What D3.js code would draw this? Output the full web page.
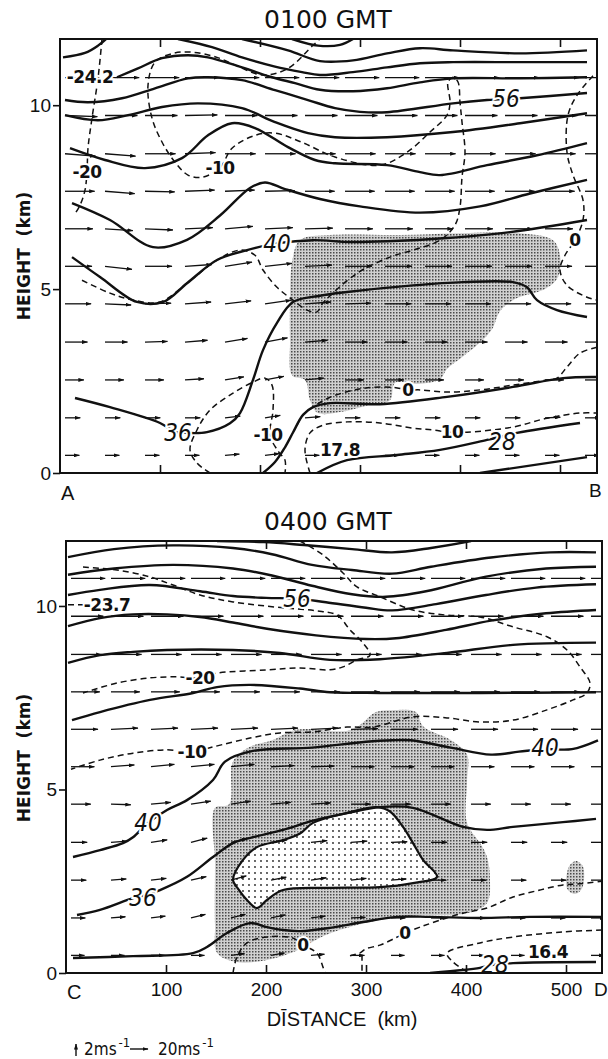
<!DOCTYPE html>
<html>
<head>
<meta charset="utf-8">
<script src="https://cdn.jsdelivr.net/npm/d3@7"></script>
<style>
  body { margin: 0; background: #fff; }
  text { fill: #111; }
</style>
</head>
<body>
<svg id="fig" width="608" height="1059"></svg>
<script>
// ---- wind grid (both panels) ----
var levels = [0.48, 1.5, 2.53, 3.56, 4.6, 5.62, 6.64, 7.66, 8.68, 9.72, 10.75];
var cols = [5, 45, 85, 125, 165, 205, 245, 285, 325, 365, 405, 445, 485, 525];
// horizontal speed per level (m/s)
var topSpeed = [16, 17, 21, 25, 29, 30, 31, 33, 34, 36, 38];
var botSpeed = [15, 16, 17, 18, 22, 26, 30, 32, 34, 36, 38];
// vertical speed per level / column (m/s)
var topW = [
  [0, 0, 0, 0, 0.2, 0.3, 0, 0, 0, 0, 0, 0, 0, 0],
  [0, 0, 0, 0, 0.3, 0.4, 0.2, 0, 0, 0, 0, 0, 0.1, 0],
  [0, 0, 0, 0.2, 0.5, 0.6, 0.3, 0, 0, 0, 0, 0, 0, 0],
  [0, 0, 0.1, 0.3, 0.6, 0.7, 0.3, 0, 0, 0, 0, 0, 0, 0],
  [0, -0.2, 0.1, 0.3, 0.5, 0.6, 0.3, 0.1, 0, 0, 0, 0, 0, 0],
  [0, -0.5, 0, 0.3, 0.7, 0.5, 0.2, 0, 0, 0, 0, 0, 0, 0],
  [0, -0.3, -0.2, 0.2, 0.4, 0.2, 0.1, 0, 0, 0, 0, 0, 0, 0],
  [0, -0.4, -0.1, 0.2, 0.2, 0.1, 0, 0, 0, 0, 0, 0, 0, 0],
  [-0.4, -0.4, 0, 0.2, 0, 0, 0, 0, 0, 0, 0, 0, 0, 0],
  [-0.2, 0, 0, 0.1, 0, 0, 0, 0, 0, 0, 0, 0, 0, 0],
  [0, 0, 0, 0, 0, 0, 0, 0, 0, 0, 0, 0, 0, 0]
];
var botW = [
  [0, 0, 0, 0, 0.3, 0.4, 0.2, 0, 0, 0, 0, 0, 0, 0],
  [0, 0.2, 0.3, 0.6, 0.6, 0.5, 0.3, 0.1, 0, 0, 0, 0, 0, 0],
  [0, 0.2, 0.3, 0.6, 0.7, 0.5, 0.4, 0.3, 0.2, 0, 0, 0, 0, 0],
  [0, 0.2, 0.4, 0.7, 0.6, 0.4, 0.3, 0.2, 0.1, 0, 0, 0, 0, 0],
  [0, -0.1, 0.3, 0.5, 0.5, 0.3, 0.2, 0, 0, 0, 0, 0, 0, 0],
  [0, 0.3, 0.4, 0.4, 0.4, 0.2, 0.1, 0, 0, 0, 0, 0, 0, 0],
  [0, 0.2, 0.2, 0.2, 0.2, 0.2, 0.2, 0.1, 0, 0, 0, 0, 0, 0],
  [0, 0, 0, 0, 0, 0, 0, 0, 0, 0, 0, 0, 0, 0],
  [0, 0, 0, 0, 0, 0, 0, 0, 0, 0, 0, 0, 0, 0],
  [0, 0, 0, 0, 0, 0, 0, 0, 0, 0, 0, 0, 0, 0],
  [0, 0, 0, 0, 0, 0, 0, 0, 0, 0, 0, 0, 0, 0]
];

// ---- 0100 GMT contours, points are [distance km, height km] ----
var topSolid = [
  [[3,11.3],[25,11.42],[38,11.62],[46,11.8]],
  [[232,11.8],[258,11.62],[280,11.64],[293,11.8]],
  [[182,11.8],[228,11.49],[260,11.2],[293,11.22],[327,11.41],[360,11.55],[393,11.49],[460,11.41],[527,11.49]],
  [[118,11.8],[152,11.58],[182,11.3],[215,11.05],[242,10.9],[260,10.82],[293,10.9],[327,11.03],[360,11.14],[393,11.17],[460,11.17],[527,11.17]],
  [[57,10.76],[78,11.0],[102,11.28],[128,11.36],[148,11.3],[182,11.03],[212,10.76],[235,10.6],[260,10.42],[293,10.38],[327,10.46],[360,10.62],[393,10.73],[460,10.73],[527,10.76]],
  [[5,10.14],[28,10.08],[62,10.19],[95,10.46],[128,10.73],[148,10.76],[182,10.68],[215,10.41],[248,10.14],[275,9.92],[300,9.82],[327,9.81],[393,10.05],[427,10.14],[460,10.19],[527,10.33]],
  [[5,9.73],[38,9.59],[68,9.73],[102,9.95],[138,10.05],[182,9.92],[215,9.54],[248,9.24],[275,9.13],[327,9.13],[393,9.27],[460,9.51],[527,9.78]],
  [[10,8.83],[45,8.51],[85,8.29],[122,8.56],[148,9.18],[172,9.51],[195,9.38],[228,8.86],[255,8.51],[275,8.42],[327,8.37],[360,8.18],[380,8.1],[427,8.37],[477,8.64],[527,8.97]],
  [[12,7.34],[50,6.88],[93,6.14],[127,6.34],[160,7.0],[190,7.75],[205,7.9],[225,7.72],[260,7.45],[300,7.25],[360,7.08],[420,7.25],[470,7.6],[527,7.97]],
  [[12,5.87],[40,5.33],[77,4.65],[103,4.65],[127,5.16],[157,5.79],[187,6.06],[218,6.25],[253,6.33],[290,6.28],[327,6.3],[387,6.39],[450,6.55],[527,6.88]],
  [[15,2.04],[50,1.79],[100,1.36],[115,1.12],[127,1.09],[147,1.11],[170,1.35],[180,1.63],[193,2.53],[203,3.34],[217,4.08],[233,4.65],[260,4.82],[287,4.92],[353,5.1],[403,5.19],[453,5.19],[467,5.05],[477,4.7],[497,4.43],[527,4.24]],
  [[203,0],[215,0.3],[225,0.7],[233,1.1],[243,1.58],[253,1.79],[270,1.9],[320,1.87],[387,2.07],[453,2.34],[503,2.58],[537,2.61]],
  [[257,0],[287,0.35],[337,0.49],[380,0.63],[427,0.9],[457,1.09],[520,1.36]],
  [[420,0],[527,0.43]]
];
var topDashed = [
  [[42,11.8],[38,10.73],[32,9.65],[28,8.83],[27,8.2],[25,7.69],[20,7.28],[15,7.05]],
  [[22,5.24],[50,4.89],[73,4.7],[100,4.65],[127,5.16],[157,5.79],[180,6.06],[195,5.92],[203,5.52],[217,5.05],[233,4.7],[247,4.43],[257,4.38],[263,4.62],[297,5.43],[330,5.87],[353,6.06],[380,6.33],[395,6.74],[400,7.23],[402,8.04],[405,8.72],[402,9.54],[400,10.08],[398,10.63],[393,10.76],[388,10.63],[390,10.08],[387,9.73],[370,9.27],[347,8.72],[320,8.37],[275,8.59],[242,8.99],[215,9.24],[195,9.18],[172,8.83],[160,8.3],[142,8.04],[128,8.1],[115,8.45],[102,9.0],[92,9.65],[88,10.54],[95,11.17],[113,11.41],[133,11.44],[157,11.3],[180,11.03],[203,10.82],[228,11.0],[253,11.63],[260,11.8]],
  [[150,0],[137,0.27],[130,0.63],[137,1.17],[150,1.71],[173,2.17],[193,2.47],[205,2.58],[212,2.39],[213,1.71],[210,1.03],[218,0.6],[225,0.35],[225,0]],
  [[237,1.3],[243,1.58],[253,1.79],[270,2.06],[303,2.3],[333,2.33],[348,2.26],[360,2.26],[387,2.2],[420,2.26],[453,2.39],[487,2.53],[497,2.58],[507,2.88],[520,3.26],[537,3.42]],
  [[533,10.8],[517,10.27],[508,9.73],[507,8.72],[513,8.1],[523,7.42],[523,6.88],[515,6.33],[505,5.92],[500,5.52],[507,5.1],[527,4.78],[537,4.7]],
  [[250,0],[245,0.63],[250,1.09],[263,1.3],[287,1.39],[320,1.36],[353,1.22],[373,1.17],[390,1.11],[407,1.11],[453,1.25],[487,1.49],[520,1.63],[537,1.63]]
];
var topShade = [[232,5.73],[240,6.33],[270,6.47],[340,6.47],[400,6.52],[460,6.52],[493,6.33],[500,5.92],[498,5.33],[485,5.0],[455,4.73],[440,4.4],[432,3.91],[418,3.5],[402,3.15],[387,2.83],[380,2.55],[358,2.42],[335,2.45],[330,1.98],[310,1.85],[280,1.66],[258,1.63],[250,1.98],[245,2.53],[232,2.66],[230,3.61],[230,4.67]];
var topBoldLabels = [["-24.2",30,10.76],["-20",27,8.18],["-10",160,8.29],["-10",208,1.03],["0",348,2.26],["0",515,6.33],["10",392,1.11],["17.8",280,0.62]];
var topItalicLabels = [["40",217,6.22],["36",118,1.09],["56",446,10.18],["28",442,0.84]];

// ---- 0400 GMT contours ----
var botSolid = [
  [[151,11.77],[198,11.74],[238,11.66],[286,11.55],[326,11.46],[365,11.58],[405,11.77]],
  [[2,11.33],[48,11.55],[107,11.65],[167,11.58],[206,11.41],[246,11.12],[286,10.98],[326,10.88],[365,11.07],[425,11.32],[484,11.46],[530,11.46]],
  [[2,10.85],[48,11.02],[107,11.12],[167,11.02],[206,10.83],[246,10.55],[286,10.32],[320,10.25],[360,10.4],[420,10.8],[480,11.02],[530,11.07]],
  [[2,10.3],[34,10.44],[84,10.57],[134,10.4],[167,10.27],[200,10.22],[231,10.2],[260,10.1],[300,9.95],[326,9.88],[370,10.05],[420,10.3],[470,10.5],[530,10.59]],
  [[2,9.45],[34,9.67],[67,9.77],[101,9.77],[134,9.7],[167,9.55],[201,9.38],[250,9.2],[300,9.1],[330,9.12],[380,9.35],[425,9.6],[480,9.8],[530,9.89]],
  [[2,8.45],[34,8.66],[67,8.75],[101,8.8],[167,8.8],[214,8.72],[264,8.53],[314,8.55],[381,8.72],[447,8.94],[530,9.0]],
  [[6,6.89],[34,7.11],[84,7.44],[127,7.63],[151,7.79],[184,7.85],[234,7.75],[264,7.65],[314,7.63],[414,7.63],[530,7.65]],
  [[7,3.16],[34,3.35],[57,3.54],[67,3.7],[82,4.09],[101,4.44],[121,4.71],[147,5.26],[159,5.76],[187,6.05],[246,6.14],[300,6.3],[326,6.34],[345,6.34],[385,6.14],[425,5.95],[453,6.03],[479,6.1],[506,6.1],[532,6.34]],
  [[11,1.58],[34,1.72],[67,2.04],[77,2.1],[94,2.26],[121,2.62],[147,3.16],[167,3.54],[187,3.7],[217,3.9],[247,4.15],[280,4.35],[314,4.52],[347,4.5],[397,3.98],[421,3.9],[447,3.98],[497,4.11],[530,4.2]],
  [[7,0.41],[67,0.46],[127,0.54],[141,0.71],[161,1.09],[184,1.36],[201,1.25],[217,1.17],[234,1.14],[264,1.23],[297,1.39],[331,1.53],[364,1.53],[414,1.5],[464,1.53],[536,1.53]],
  [[364,0],[397,0.08],[414,0.14],[427,0.22],[447,0.27],[530,0.3]]
];
var botLoop = [[167,2.53],[177,3.08],[191,3.43],[217,3.62],[234,3.8],[247,4.09],[281,4.36],[311,4.52],[324,4.4],[337,3.98],[347,3.54],[357,3.08],[371,2.62],[347,2.45],[314,2.34],[264,2.32],[217,2.26],[201,1.99],[191,1.77],[181,1.99],[172,2.3]];
var botDashed = [
  [[17,11.06],[51,10.98],[84,10.79],[107,10.57],[134,10.3],[167,10.11],[217,9.95],[250,9.87],[271,9.75],[284,9.35],[297,8.99],[304,8.66],[291,8.53],[277,8.34],[264,8.26],[234,8.31],[201,8.26],[151,8.17],[132,8.04],[111,8.07],[84,8.04],[51,7.9],[17,7.63]],
  [[234,11.77],[257,11.39],[277,10.9],[291,10.52],[314,10.25],[347,9.89],[381,9.75],[414,9.7],[447,9.43],[481,9.16],[501,8.8],[514,8.34],[524,7.9],[521,7.63],[507,7.44],[481,7.17],[447,6.89],[414,6.84],[381,6.95],[347,6.98],[307,6.7],[281,6.7],[247,6.57],[214,6.54],[184,6.4],[147,6.16],[126,6.02],[101,6.08],[67,5.99],[34,5.8],[5,5.55]],
  [[2,10.03],[17,10.03]],
  [[167,0],[171,0.44],[181,0.82],[201,0.98],[227,0.95],[237,0.76],[251,0.54],[257,0.16],[259,0]],
  [[284,0.47],[294,0.55],[300,0.66],[314,0.76],[329,0.95],[339,1.09],[354,1.25],[374,1.44],[397,1.63],[421,1.77],[447,2.07],[474,2.26],[497,2.4],[514,2.43],[536,2.5]],
  [[296,0.5],[296,0]],
  [[401,0.03],[387,0.3],[381,0.54],[414,0.82],[447,0.98],[497,1.12],[536,1.17]]
];
var botShade = [[149,4.5],[163,4.6],[167,5.76],[183,6.15],[206,6.34],[230,6.63],[286,6.63],[310,7.11],[326,7.16],[350,7.11],[357,6.72],[385,6.34],[401,5.95],[401,5.2],[401,4.09],[414,3.54],[421,3.16],[424,2.53],[421,1.91],[401,1.63],[340,1.55],[290,1.3],[257,1.0],[230,0.6],[200,0.35],[170,0.3],[151,0.55],[149,1.3],[149,3.0]];
var botShadeSmall = [[501,2.3],[503,2.9],[510,3.05],[517,2.9],[516,2.3],[509,2.15]];
var botBoldLabels = [["-23.7",41,10.03],["-20",134,8.04],["-10",126,6.02],["0",237,0.76],["0",339,1.09],["16.4",482,0.57]];
var botItalicLabels = [["56",231,10.2],["40",82,4.09],["40",479,6.13],["36",77,2.04],["28",429,0.22]];

var heightTicks = [0, 5, 10];
var distTicks = [100, 200, 300, 400, 500];

// ------------------------------------------------------------
var svg = d3.select('#fig');
var defs = svg.append('defs');

defs.append('marker')
  .attr('id', 'head')
  .attr('viewBox', '0 0 6 4')
  .attr('refX', 5.5).attr('refY', 2)
  .attr('markerWidth', 6).attr('markerHeight', 4)
  .attr('markerUnits', 'userSpaceOnUse')
  .attr('orient', 'auto')
  .append('path').attr('d', 'M0,0L6,2L0,4Z').attr('fill', '#111');

var stip = defs.append('pattern').attr('id', 'stip')
  .attr('width', 3).attr('height', 3).attr('patternUnits', 'userSpaceOnUse');
stip.append('rect').attr('width', 3).attr('height', 3).attr('fill', '#d0d0d0');
stip.append('rect').attr('width', 1.5).attr('height', 1.5).attr('fill', '#4a4a4a');

var sparse = defs.append('pattern').attr('id', 'sparse')
  .attr('width', 6).attr('height', 6).attr('patternUnits', 'userSpaceOnUse');
sparse.append('rect').attr('width', 6).attr('height', 6).attr('fill', '#fff');
sparse.append('circle').attr('cx', 3).attr('cy', 3).attr('r', 0.9).attr('fill', '#222');

// 20 m/s -> 18 px, 2 m/s vertical -> 12 px
var uScale = d3.scaleLinear().domain([0, 20]).range([0, 18]);
var wScale = d3.scaleLinear().domain([0, 2]).range([0, 12]);

function drawPanel(p) {
  var x = d3.scaleLinear().domain([0, p.xMax]).range([p.left, p.right]);
  var y = d3.scaleLinear().domain([0, p.yMax]).range([p.bottom, p.top]);
  var g = svg.append('g');

  defs.append('clipPath').attr('id', p.id + 'clip')
    .append('rect').attr('x', p.left).attr('y', p.top)
    .attr('width', p.right - p.left).attr('height', p.bottom - p.top);

  var inner = g.append('g').attr('clip-path', 'url(#' + p.id + 'clip)');
  var smooth = d3.line().x(function(d){ return x(d[0]); }).y(function(d){ return y(d[1]); })
    .curve(d3.curveCatmullRom.alpha(0.5));
  var closed = d3.line().x(function(d){ return x(d[0]); }).y(function(d){ return y(d[1]); })
    .curve(d3.curveCatmullRomClosed.alpha(0.5));

  // shaded areas
  p.shades.forEach(function(s){
    inner.append('path').attr('d', closed(s)).attr('fill', 'url(#stip)');
  });
  if (p.loop) {
    inner.append('path').attr('d', closed(p.loop)).attr('fill', 'url(#sparse)');
  }

  // wind arrows
  levels.forEach(function(h, r){
    cols.forEach(function(c, k){
      var x0 = x(c), y0 = y(h);
      inner.append('line')
        .attr('x1', x0).attr('y1', y0)
        .attr('x2', x0 + uScale(p.speed[r])).attr('y2', y0 - wScale(p.w[r][k]))
        .attr('stroke', '#111').attr('stroke-width', 1.3)
        .attr('marker-end', 'url(#head)');
    });
  });

  // dashed contours
  p.dashed.forEach(function(l){
    inner.append('path').attr('d', smooth(l))
      .attr('fill', 'none').attr('stroke', '#111')
      .attr('stroke-width', 1.5).attr('stroke-dasharray', '6,4');
  });
  // solid contours
  p.solid.forEach(function(l){
    inner.append('path').attr('d', smooth(l))
      .attr('fill', 'none').attr('stroke', '#111').attr('stroke-width', 2.4)
      .attr('stroke-linejoin', 'round');
  });
  if (p.loop) {
    inner.append('path').attr('d', closed(p.loop))
      .attr('fill', 'none').attr('stroke', '#111').attr('stroke-width', 2.2);
  }

  // contour labels
  p.bold.forEach(function(d){
    g.append('text').attr('x', x(d[1])).attr('y', y(d[2]))
      .attr('text-anchor', 'middle').attr('dominant-baseline', 'central')
      .style('font-family', 'DejaVu Sans, sans-serif').style('font-weight', 'bold')
      .style('font-size', '17px').style('letter-spacing', '-0.5px')
      .attr('stroke', '#fff').attr('stroke-width', 4).attr('paint-order', 'stroke')
      .text(d[0]);
  });
  p.italic.forEach(function(d){
    g.append('text').attr('x', x(d[1])).attr('y', y(d[2]))
      .attr('text-anchor', 'middle').attr('dominant-baseline', 'central')
      .style('font-family', "'Liberation Sans Narrow', 'DejaVu Sans Condensed', sans-serif")
      .style('font-style', 'italic').style('font-size', '24px')
      .attr('stroke', '#fff').attr('stroke-width', 4).attr('paint-order', 'stroke')
      .text(d[0]);
  });

  // frame
  g.append('rect').attr('x', p.left).attr('y', p.top)
    .attr('width', p.right - p.left).attr('height', p.bottom - p.top)
    .attr('fill', 'none').attr('stroke', '#111').attr('stroke-width', 2);

  // inward distance ticks top and bottom
  var topAx = g.append('g').attr('transform', 'translate(0,' + p.top + ')')
    .call(d3.axisTop(x).tickValues(distTicks).tickSize(-8).tickFormat(''));
  var botAx = g.append('g').attr('transform', 'translate(0,' + p.bottom + ')')
    .call(d3.axisBottom(x).tickValues(distTicks).tickSize(-8).tickPadding(10)
      .tickFormat(p.xLabels ? d3.format('d') : ''));
  [topAx, botAx].forEach(function(a){
    a.select('.domain').remove();
    a.selectAll('line').attr('stroke', '#111').attr('stroke-width', 1.6);
    a.selectAll('text').style('font-family', 'Liberation Sans, sans-serif')
      .style('font-size', '19px').attr('fill', '#111');
  });

  var yAx = g.append('g').attr('transform', 'translate(' + p.left + ',0)')
    .call(d3.axisLeft(y).tickValues(heightTicks).tickSize(7).tickPadding(2));
  yAx.select('.domain').remove();
  yAx.selectAll('line').attr('stroke', '#111').attr('stroke-width', 1.6);
  yAx.selectAll('text').style('font-family', 'Liberation Sans, sans-serif')
    .style('font-size', '19px').attr('fill', '#111');

  // titles / letters
  g.append('text').attr('x', 328).attr('y', p.top - 11)
    .attr('text-anchor', 'middle')
    .style('font-family', 'DejaVu Sans, sans-serif').style('font-size', '25px')
    .text(p.title);
  g.append('text').attr('transform', 'translate(30,' + p.hMid + ') rotate(-90)')
    .attr('text-anchor', 'middle')
    .style('font-family', 'DejaVu Sans, sans-serif').style('font-size', '17px')
    .style('font-weight', 'bold')
    .text('HEIGHT\u00a0\u00a0(km)');
  g.append('text').attr('x', p.left + 1).attr('y', p.letterY)
    .style('font-family', 'Liberation Sans, sans-serif').style('font-size', '20px')
    .text(p.ends[0]);
  g.append('text').attr('x', p.right - 8).attr('y', p.letterY - 3)
    .style('font-family', 'Liberation Sans, sans-serif').style('font-size', '19px')
    .text(p.ends[1]);
  return x;
}

drawPanel({
  id: 'p1', title: '0100 GMT', left: 60, right: 597, top: 39, bottom: 473,
  xMax: 537, yMax: 11.8, hMid: 256, letterY: 500, ends: ['A', 'B'],
  speed: topSpeed, w: topW, solid: topSolid, dashed: topDashed,
  shades: [topShade], loop: null, bold: topBoldLabels, italic: topItalicLabels,
  xLabels: false
});
drawPanel({
  id: 'p2', title: '0400 GMT', left: 66, right: 602, top: 541, bottom: 973,
  xMax: 536, yMax: 11.77, hMid: 758, letterY: 999, ends: ['C', 'D'],
  speed: botSpeed, w: botW, solid: botSolid, dashed: botDashed,
  shades: [botShade, botShadeSmall], loop: botLoop, bold: botBoldLabels, italic: botItalicLabels,
  xLabels: true
});

svg.append('text').attr('x', 342).attr('y', 1026).attr('text-anchor', 'middle')
  .style('font-family', 'Liberation Sans, sans-serif').style('font-size', '20px')
  .text('D\u012aSTANCE\u00a0\u00a0(km)');

// legend: vertical and horizontal reference arrows
var lg = svg.append('g').style('font-family', "'Liberation Sans Narrow', 'DejaVu Sans Condensed', sans-serif");
lg.append('line').attr('x1', 76).attr('y1', 1056).attr('x2', 76).attr('y2', 1056 - wScale(2))
  .attr('stroke', '#111').attr('stroke-width', 1.4).attr('marker-end', 'url(#head)');
var t1 = lg.append('text').attr('x', 84).attr('y', 1055).style('font-size', '17px');
t1.append('tspan').text('2ms');
t1.append('tspan').attr('dy', -8).attr('dx', 2).style('font-size', '13px').text('-1');
lg.append('line').attr('x1', 130).attr('y1', 1049).attr('x2', 130 + uScale(20)).attr('y2', 1049)
  .attr('stroke', '#111').attr('stroke-width', 1.4).attr('marker-end', 'url(#head)');
var t2 = lg.append('text').attr('x', 158).attr('y', 1055).style('font-size', '17px');
t2.append('tspan').text('20ms');
t2.append('tspan').attr('dy', -8).attr('dx', 2).style('font-size', '13px').text('-1');
</script>
</body>
</html>
